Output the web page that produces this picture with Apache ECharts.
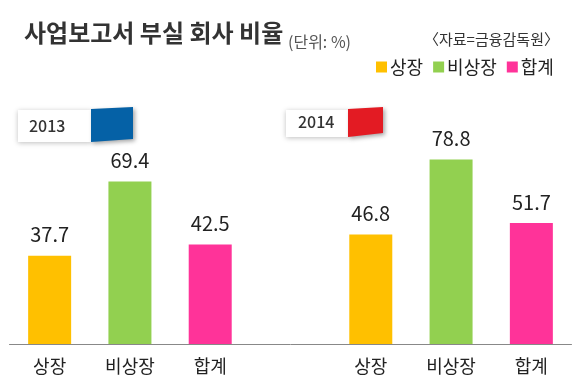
<!DOCTYPE html>
<html><head><meta charset="utf-8">
<style>html,body{margin:0;padding:0;background:#fff}#c{width:575px;height:390px}</style>
<script src="https://cdn.jsdelivr.net/npm/echarts@6/dist/echarts.min.js"></script>
</head><body><div id="c"></div>
<script>
const categories = ['상장','비상장','합계','','상장','비상장','합계'];
const listed = [37.7,null,null,null,46.8,null,null];
const unlisted = [null,69.4,null,null,null,78.8,null];
const total = [null,null,42.5,null,null,null,51.7];
const seriesNames = ['상장','비상장','합계'];
const seriesValues = [listed,unlisted,total];
const colors = ['#FFC000','#92D050','#FF3399'];
const font = '"Noto Sans CJK KR","Noto Sans",sans-serif';
const chart = echarts.init(document.getElementById('c'),null,{renderer:'canvas'});
function yearTag(x,w,y,h,label,col,pts,tx,ty){
  return [
    {type:'rect',shape:{x:x,y:y,width:w,height:h},style:{fill:'#fff',shadowBlur:5,shadowColor:'rgba(0,0,0,.25)',shadowOffsetY:1}},
    {type:'polygon',shape:{points:pts},style:{fill:col,shadowBlur:4,shadowColor:'rgba(0,0,0,.35)',shadowOffsetX:2,shadowOffsetY:2}},
    {type:'text',x:tx,y:ty,style:{text:label,fill:'#333',font:'500 16px '+font,textVerticalAlign:'middle'}}
  ];
}
chart.setOption({
  animation:false,
  backgroundColor:'#fff',
  title:{text:'사업보고서 부실 회사 비율',left:19,top:16,textStyle:{fontFamily:font,fontSize:24,fontWeight:'bold',color:'#333'}},
  legend:{top:53,left:371,itemWidth:11,itemHeight:11,itemGap:10,icon:'rect',selectedMode:false,
    data:seriesNames,textStyle:{fontFamily:font,fontSize:18,color:'#222',padding:[0,0,0,-2]}},
  grid:{left:9.5,width:562,top:110,height:234},
  xAxis:{type:'category',data:categories,
    axisTick:{show:false},
    axisLine:{lineStyle:{color:'#888',width:1}},
    axisLabel:{interval:0,margin:13,fontFamily:font,fontSize:18,color:'#222'}},
  yAxis:{type:'value',min:0,max:100,show:false,splitLine:{show:false}},
  series:seriesNames.map((n,i)=>({
    name:n,type:'bar',data:seriesValues[i],barWidth:43,barGap:'-100%',
    itemStyle:{color:colors[i]},
    label:{show:true,position:'top',distance:11,formatter:p=>p.value.toFixed(1),fontFamily:font,fontSize:20,color:'#222'}
  })),
  graphic:[
    ...yearTag(18,74,110,32,'2013','#0561A6',[[91,109],[133,107],[133,139],[91,142]],29,126),
    ...yearTag(286,63,110,27,'2014','#E31B23',[[348,109],[383,107],[383,133],[348,137]],298,122),
    {type:'text',x:288,y:42,style:{text:'(단위: %)',fill:'#555',font:'16px '+font,textVerticalAlign:'middle'}},
    {type:'text',x:424,y:39,style:{text:'〈자료=금융감독원〉',fill:'#333',font:'15px '+font,textVerticalAlign:'middle'}}
  ]
});
</script></body></html>
